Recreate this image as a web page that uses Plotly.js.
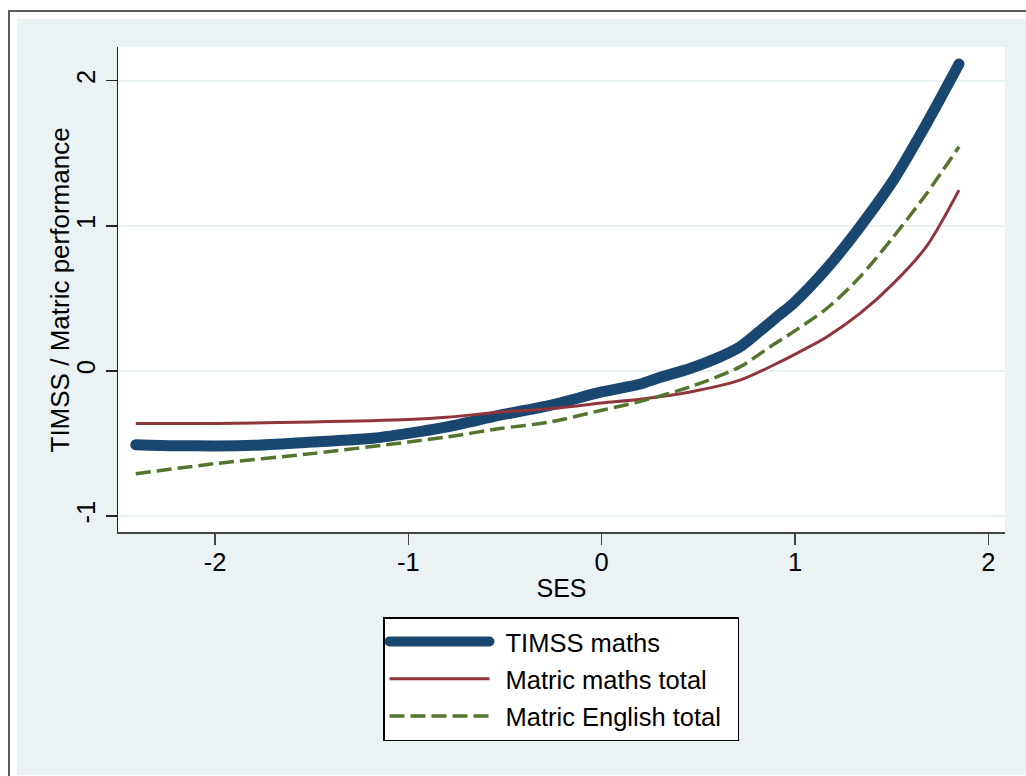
<!DOCTYPE html>
<html>
<head>
<meta charset="utf-8">
<script src="https://cdn.plot.ly/plotly-3.0.1.min.js"></script>
<style>
  html, body { margin: 0; padding: 0; background: #ffffff; width: 1026px; height: 776px; overflow: hidden; }
  #frame { position: absolute; left: 8px; top: 10px; width: 1018px; height: 766px;
           border-left: 2px solid #5a5a5a; border-top: 2px solid #5a5a5a; box-sizing: border-box; }
  #chart { position: absolute; left: 17px; top: 19px; width: 1009px; height: 756px; }
  path.js-line[style*="rgb(26, 71, 111)"] { stroke-linecap: round; }
</style>
</head>
<body>
<div id="frame"></div>
<div id="chart"></div>
<script>
// ---- data ----
const timssX = [-2.41, -2.2, -2.0, -1.8, -1.5, -1.2, -1.0, -0.8, -0.526, -0.267, 0.0, 0.2, 0.3, 0.457, 0.6, 0.715, 0.818, 0.922, 0.991, 1.164, 1.336, 1.509, 1.681, 1.848];
const timssY = [-0.508, -0.515, -0.517, -0.513, -0.49, -0.466, -0.43, -0.385, -0.305, -0.237, -0.145, -0.09, -0.045, 0.017, 0.09, 0.166, 0.275, 0.39, 0.465, 0.706, 0.993, 1.315, 1.706, 2.115];

const mathsX = [-2.41, -2.0, -1.5, -1.0, -0.8, -0.526, -0.267, 0.0, 0.2, 0.457, 0.715, 0.922, 1.043, 1.164, 1.336, 1.509, 1.681, 1.848];
const mathsY = [-0.363, -0.362, -0.352, -0.335, -0.32, -0.283, -0.26, -0.221, -0.195, -0.145, -0.064, 0.062, 0.145, 0.234, 0.396, 0.603, 0.86, 1.246];

const englishX = [-2.41, -2.0, -1.5, -1.0, -0.8, -0.526, -0.267, 0.0, 0.2, 0.457, 0.715, 0.871, 0.991, 1.164, 1.336, 1.509, 1.681, 1.848];
const englishY = [-0.708, -0.639, -0.57, -0.49, -0.455, -0.397, -0.352, -0.271, -0.21, -0.11, 0.028, 0.166, 0.269, 0.43, 0.648, 0.924, 1.223, 1.545];

const seriesNames = ['TIMSS maths', 'Matric maths total', 'Matric English total'];
const xTicks = [-2, -1, 0, 1, 2];
const yTicks = [-1, 0, 1, 2];
const xTitle = 'SES';
const yTitle = 'TIMSS / Matric performance';

const FONT = 'Liberation Sans, Arial, Helvetica, sans-serif';

const traces = [
  { x: timssX, y: timssY, name: seriesNames[0], mode: 'lines', legendgroup: 'a',
    line: { color: '#1a476f', width: 11, shape: 'spline', smoothing: 0.8 } },
  { x: mathsX, y: mathsY, name: seriesNames[1], mode: 'lines', legendgroup: 'b',
    line: { color: '#90353b', width: 3, shape: 'spline', smoothing: 0.8 } },
  { x: englishX, y: englishY, name: seriesNames[2], mode: 'lines', legendgroup: 'c',
    line: { color: '#55752f', width: 3.5, dash: '15px,6px', shape: 'spline', smoothing: 0.8 } }
];

const layout = {
  width: 1009, height: 756,
  paper_bgcolor: '#eaf2f3',
  plot_bgcolor: '#ffffff',
  margin: { l: 101, r: 21, t: 28, b: 243, autoexpand: false },
  font: { family: FONT, size: 25, color: '#000000' },
  xaxis: {
    range: [-2.502, 2.086],
    tickvals: xTicks, ticktext: xTicks.map(String),
    showgrid: false, zeroline: false,
    showline: true, linecolor: '#444444', linewidth: 1.5,
    ticks: 'outside', ticklen: 11, tickwidth: 1.5, tickcolor: '#444444',
    tickfont: { family: FONT, size: 25.5, color: '#000' },
    ticklabelstandoff: -4,
    automargin: false,
    title: { text: xTitle, font: { family: FONT, size: 25, color: '#000' }, standoff: 4 }
  },
  yaxis: {
    range: [-1.110, 2.232],
    tickvals: yTicks, ticktext: yTicks.map(String),
    tickangle: -90,
    showgrid: true, gridcolor: '#eaf2f3', gridwidth: 2,
    zeroline: false,
    showline: true, linecolor: '#222222', linewidth: 1.5,
    ticks: 'outside', ticklen: 11, tickwidth: 1.5, tickcolor: '#222222',
    tickfont: { family: FONT, size: 25.5, color: '#000' },
    automargin: false
  },
  annotations: [{
    text: yTitle, xref: 'paper', yref: 'paper',
    x: -0.0654, y: 0.5, xanchor: 'center', yanchor: 'middle',
    textangle: -90, showarrow: false,
    font: { family: FONT, size: 26, color: '#000' }
  }],
  showlegend: true,
  legend: {
    xref: 'container', yref: 'container',
    x: 366 / 1009, y: 1 - 598 / 756, xanchor: 'left', yanchor: 'top',
    bgcolor: '#ffffff', bordercolor: '#000000', borderwidth: 1.5,
    font: { family: FONT, size: 25.5, color: '#000' },
    traceorder: 'grouped', tracegroupgap: 1,
    itemwidth: 100
  }
};

Plotly.newPlot('chart', traces, layout, { displayModeBar: false, staticPlot: true }).then(function (gd) {
  // Stata-style legend: a little more room between key and label, and on the right
  const leg = gd.querySelector('.legend');
  if (!leg) return;
  const extra = 22, shift = 11;
  leg.querySelectorAll('text.legendtext').forEach(function (t) {
    t.setAttribute('x', (parseFloat(t.getAttribute('x')) || 0) + shift);
  });
  const bg = leg.querySelector('rect.bg');
  if (bg) bg.setAttribute('width', parseFloat(bg.getAttribute('width')) + extra);
  const clip = gd.querySelector('clipPath[id^="legend"] rect');
  if (clip) clip.setAttribute('width', parseFloat(clip.getAttribute('width')) + extra);
});
</script>
</body>
</html>
